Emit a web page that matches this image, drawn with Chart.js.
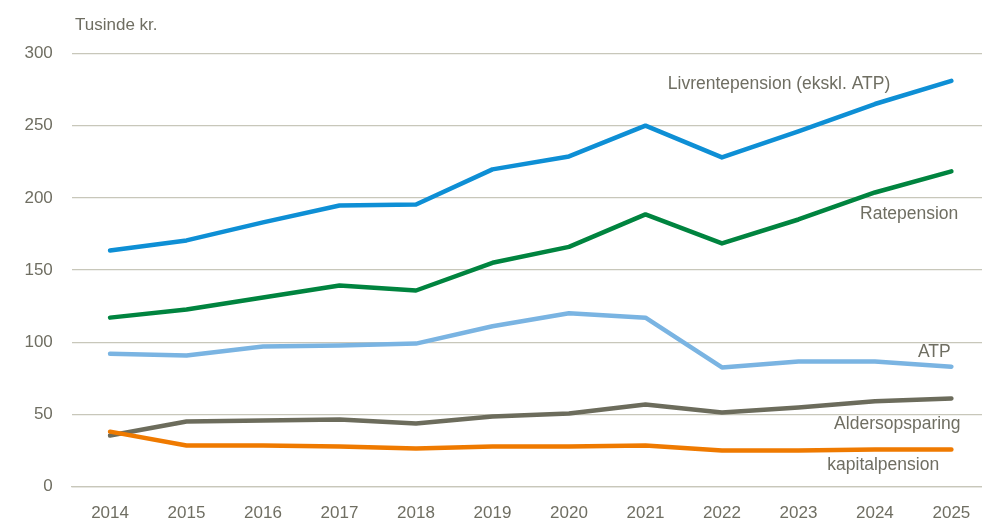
<!DOCTYPE html>
<html>
<head>
<meta charset="utf-8">
<script src="https://cdn.jsdelivr.net/npm/chart.js@4/dist/chart.umd.min.js"></script>
<style>
html,body{margin:0;padding:0;background:#fff;}
#wrap{width:982px;height:526px;position:relative;}
</style>
</head>
<body>
<div id="wrap"><canvas id="c"></canvas></div>
<script>
const years = [2014,2015,2016,2017,2018,2019,2020,2021,2022,2023,2024,2025];
const livrente = [163.5,170.5,183,194.7,195.4,219.7,228.7,250,228,246,265,281];
const ratepension = [117,122.7,131,139.3,135.8,155,166,188.5,168.4,185,203.7,218.3];
const atp = [92,90.8,97,97.7,99,111,120,117,82.5,86.6,86.6,83];
const aldersopsparing = [35.3,45,45.7,46.4,43.7,48.5,50.6,56.8,51.3,54.7,59,61];
const kapitalpension = [38,28.4,28.4,27.7,26.3,27.7,27.7,28.4,25,25,25.6,25.6];
const yTicks = [0,50,100,150,200,250,300];
const unitLabel = 'Tusinde kr.';
const seriesNames = ['Livrentepension (ekskl. ATP)','Ratepension','ATP','Aldersopsparing','kapitalpension'];
// label anchors in data units: [year of right edge, value at vertical centre]
const labelYears = [2024.2, 2025.09, 2024.99, 2025.12, 2024.84];
const labelValues = [278.9, 188.8, 93.2, 43.3, 14.9];

const textColor = '#6f6e62';
const gridColor = '#c8c7ba';
const colors = ['#0e8fd5','#00843f','#7ab4e2','#6c6c5c','#ef7a00'];
const series = [livrente, ratepension, atp, aldersopsparing, kapitalpension];

// font detection: prefer a narrow sans (Arial Narrow look)
const probe = document.createElement('canvas').getContext('2d');
probe.font = '21px "Liberation Sans Narrow", monospace';
const wNarrow = probe.measureText('Aldersopsparing').width;
probe.font = '21px monospace';
const wMono = probe.measureText('Aldersopsparing').width;
const narrowOK = Math.abs(wNarrow - wMono) > 0.5;
const FAM = narrowOK ? '"Liberation Sans Narrow", "Arial Narrow", sans-serif' : '"Liberation Sans", Arial, sans-serif';
const FS = narrowOK ? 21 : 17;
const FSL = narrowOK ? 21.5 : 17.5;

const toXY = arr => arr.map((v,i)=>({x:years[i], y:v}));

const labelPlugin = {
  id:'labels',
  afterDatasetsDraw(chart){
    const {ctx, scales:{x,y}} = chart;
    ctx.save();
    ctx.fillStyle = textColor;
    ctx.font = FSL + 'px ' + FAM;
    ctx.textBaseline = 'middle';
    ctx.textAlign = 'right';
    seriesNames.forEach((n,i)=>{
      ctx.fillText(n, x.getPixelForValue(labelYears[i]), y.getPixelForValue(labelValues[i]));
    });
    ctx.textAlign = 'left';
    ctx.font = FS + 'px ' + FAM;
    ctx.fillText(unitLabel, 75, 25);
    ctx.restore();
  }
};

new Chart(document.getElementById('c'), {
  type:'line',
  data:{
    datasets: series.map((s,i)=>({
      label: seriesNames[i],
      data: toXY(s),
      borderColor: colors[i],
      backgroundColor: colors[i],
      borderWidth: 4.5,
      borderCapStyle:'round',
      borderJoinStyle:'round',
      pointRadius:0,
      tension:0,
      order: series.length - i
    }))
  },
  options:{
    responsive:true,
    maintainAspectRatio:false,
    animation:false,
    layout:{padding:{top:53.5,right:0,bottom:0,left:0}},
    plugins:{legend:{display:false},tooltip:{enabled:false}},
    scales:{
      x:{
        type:'linear',
        min:2013.5,
        max:2025.4,
        afterBuildTicks(scale){ scale.ticks = years.map(v=>({value:v})); },
        afterFit(scale){ scale.height = 39.5; },
        grid:{display:true,drawOnChartArea:false,drawTicks:true,tickLength:17,tickColor:'rgba(0,0,0,0)'},
        border:{display:true,color:gridColor,width:1.3},
        ticks:{
          color:textColor,
          padding:0,
          maxRotation:0,
          autoSkip:false,
          font:{family:FAM,size:FS},
          callback:v=>String(v)
        }
      },
      y:{
        min:0,max:300,
        afterBuildTicks(scale){ scale.ticks = yTicks.map(v=>({value:v})); },
        afterFit(scale){ scale.width = 71.8; },
        grid:{color:gridColor,lineWidth:1.3,drawTicks:false},
        border:{display:false},
        ticks:{
          color:textColor,
          padding:19,
          font:{family:FAM,size:FS}
        }
      }
    }
  },
  plugins:[labelPlugin]
});
</script>
</body>
</html>
